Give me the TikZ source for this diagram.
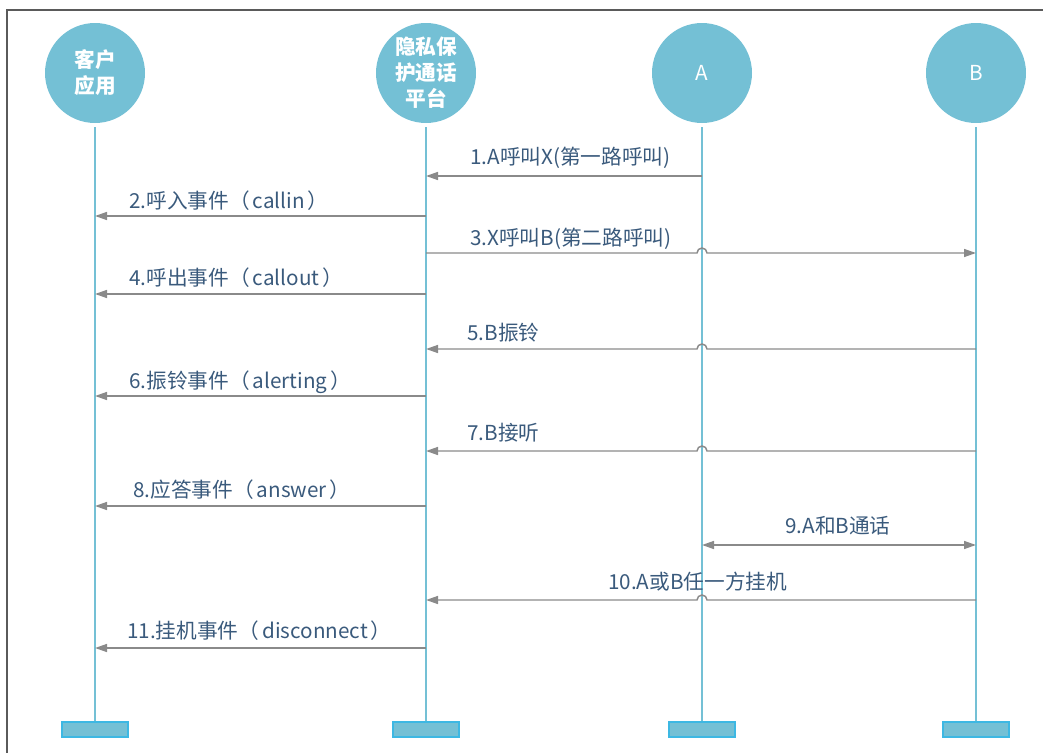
\documentclass[tikz,border=0pt]{standalone}
\usepackage{fontspec}
\setmainfont{Noto Sans CJK SC}
\usetikzlibrary{arrows.meta,calc}
\definecolor{life}{HTML}{74C0D5}
\definecolor{boxedge}{HTML}{3DB8E3}
\definecolor{arr}{HTML}{8A8A8A}
\definecolor{txt}{HTML}{3A5A7C}
\definecolor{frame}{HTML}{5A5A5A}
\newcommand{\ev}[1]{（\hspace{0.15em}#1\hspace{0.15em}）}
\begin{document}
\begin{tikzpicture}[x=0.75pt,y=-0.75pt,
 actor/.style={circle,fill=life,minimum size=75pt,inner sep=0pt,text=white,font=\fontsize{15.5}{19.5}\selectfont\bfseries,align=center},
 actorlight/.style={circle,fill=life,minimum size=75pt,inner sep=0pt,text=white,font=\fontsize{15.5}{19.5}\selectfont},
 lifeline/.style={draw=life,line width=2pt},
 endbox/.style={rectangle,fill=life,draw=boxedge,line width=0.8pt,minimum width=49.5pt,minimum height=11.25pt,inner sep=0pt},
 msg/.style={draw=arr,line width=1.1pt,-{Triangle[length=9pt,width=6pt]}},
 dmsg/.style={draw=arr,line width=1.1pt,{Triangle[length=9pt,width=6pt]}-{Triangle[length=9pt,width=6pt]}},
 lbl/.style={anchor=base west,inner sep=0pt,text=txt,font=\fontsize{15.5}{17}\selectfont}]
\useasboundingbox (0,0) rectangle (1043,753);
\draw[frame,line width=1.5pt] (7,753) -- (7,10) -- (1043,10);

% actors
\node[actor] (C) at (95,73) {客户\\应用};
\node[actor] (P) at (426,73) {隐私保\\护通话\\平台};
\node[actorlight] (A) at (702,73) {A};
\node[actorlight] (B) at (976,73) {B};

% end boxes
\node[endbox] (Ce) at (95,729.5) {};
\node[endbox] (Pe) at (426,729.5) {};
\node[endbox] (Ae) at (702,729.5) {};
\node[endbox] (Be) at (976,729.5) {};

% lifelines
\draw[lifeline] (C.center |- 0,127) -- (Ce.north);
\draw[lifeline] (P.center |- 0,127) -- (Pe.north);
\draw[lifeline] (A.center |- 0,127) -- (Ae.north);
\draw[lifeline] (B.center |- 0,127) -- (Be.north);

% messages
\draw[msg] (A.center |- 0,176) -- (P.center |- 0,176);
\node[lbl] (l1) at (470,164) {1.A呼叫X(第一路呼叫)};

\draw[msg] (P.center |- 0,216) -- (C.center |- 0,216);
\node[lbl] (l2) at (129,208) {2.呼入事件\ev{callin}};

\draw[msg] (P.center |- 0,253) -- ($(A.center |- 0,253)+(-5,0)$) arc[start angle=180,end angle=360,radius=5] -- (B.center |- 0,253);
\node[lbl] (l3) at (470,245) {3.X呼叫B(第二路呼叫)};

\draw[msg] (P.center |- 0,294) -- (C.center |- 0,294);
\node[lbl] (l4) at (129,285) {4.呼出事件\ev{callout}};

\draw[msg] (B.center |- 0,349) -- ($(A.center |- 0,349)+(5,0)$) arc[start angle=0,end angle=-180,radius=5] -- (P.center |- 0,349);
\node[lbl] (l5) at (467,340) {5.B振铃};

\draw[msg] (P.center |- 0,396) -- (C.center |- 0,396);
\node[lbl] (l6) at (129,388) {6.振铃事件\ev{alerting}};

\draw[msg] (B.center |- 0,451) -- ($(A.center |- 0,451)+(5,0)$) arc[start angle=0,end angle=-180,radius=5] -- (P.center |- 0,451);
\node[lbl] (l7) at (467,440) {7.B接听};

\draw[msg] (P.center |- 0,506) -- (C.center |- 0,506);
\node[lbl] (l8) at (133,497) {8.应答事件\ev{answer}};

\draw[dmsg] (A.center |- 0,545) -- (B.center |- 0,545);
\node[lbl] (l9) at (785,533) {9.A和B通话};

\draw[msg] (B.center |- 0,600) -- ($(A.center |- 0,600)+(5,0)$) arc[start angle=0,end angle=-180,radius=5] -- (P.center |- 0,600);
\node[lbl] (l10) at (608,589) {10.A或B任一方挂机};

\draw[msg] (P.center |- 0,648) -- (C.center |- 0,648);
\node[lbl] (l11) at (127,638) {11.挂机事件\ev{disconnect}};
\end{tikzpicture}
\end{document}
